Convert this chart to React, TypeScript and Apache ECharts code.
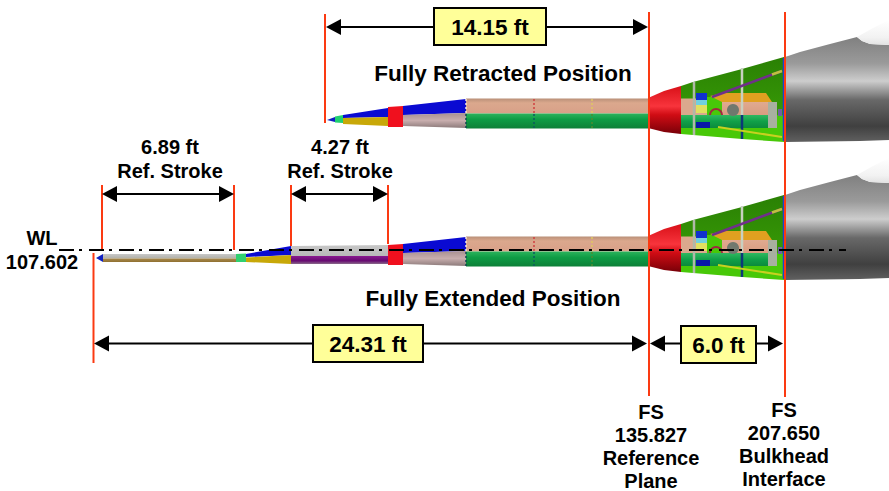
import React, { useEffect, useRef } from "react";
import * as echarts from "echarts";

const dimensionLabels = ["14.15 ft", "24.31 ft", "6.0 ft"];
const strokeLabels = ["6.89 ft", "4.27 ft"];
const strokeCaption = "Ref. Stroke";
const positionLabels = ["Fully Retracted Position", "Fully Extended Position"];
const waterLine = ["WL", "107.602"];
const referencePlane = ["FS", "135.827", "Reference", "Plane"];
const bulkhead = ["FS", "207.650", "Bulkhead", "Interface"];

const FONT = '"Liberation Sans", Arial, sans-serif';
const RED_LINE = "#fb3a12";
const lin = (stops: [number, string][]) =>
  new echarts.graphic.LinearGradient(0, 0, 0, 1, stops.map(([offset, color]) => ({ offset, color })));

const poly = (points: number[][], fill: any, z = 1) => ({ type: "polygon", z, silent: true, shape: { points }, style: { fill } });
const seg = (x1: number, y1: number, x2: number, y2: number, stroke: string, lineWidth = 2, z = 5, lineDash?: number[]) => ({
  type: "line", z, silent: true, shape: { x1, y1, x2, y2 }, style: { stroke, lineWidth, lineDash },
});
const txt = (x: number, y: number, text: string, fontSize = 20, z = 8) => ({
  type: "text", z, silent: true, x, y,
  style: { text, fontFamily: FONT, fontWeight: "bold", fontSize, fill: "#000", align: "center", verticalAlign: "middle" },
});

function arrow(x1: number, x2: number, y: number) {
  const L = 15, H = 8;
  return [
    seg(x1 + L - 1, y, x2 - L + 1, y, "#000", 2, 6),
    poly([[x1, y], [x1 + L, y - H], [x1 + L, y + H]], "#000", 6),
    poly([[x2, y], [x2 - L, y - H], [x2 - L, y + H]], "#000", 6),
  ];
}
function labelBox(x: number, y: number, w: number, h: number, text: string) {
  return [
    { type: "rect", z: 7, silent: true, shape: { x, y, width: w, height: h }, style: { fill: "#ffff99", stroke: "#000", lineWidth: 2 } },
    txt(x + w / 2, y + h / 2 + 1, text, 22.5),
  ];
}
const shift = (pts: number[][], d: number) => pts.map(([x, y]) => [x, y + d]);

function aftBody(d: number) {
  const out: any[] = [];
  const P = (pts: number[][], fill: any, z = 1) => out.push(poly(shift(pts, d), fill, z));
  const S = (a: number, b: number, c: number, e: number, stroke: string, w = 2, z = 3, dash?: number[]) =>
    out.push(seg(a, b + d, c, e + d, stroke, w, z, dash));

  // forward tapered section
  P([[403, 106], [466, 99], [466, 113], [403, 115]], "#0a0ad2");
  P([[403, 115], [466, 113], [466, 128], [403, 126]], lin([[0, "#a89090"], [0.5, "#c8aeae"], [1, "#8c7a7a"]]));
  // constant tube
  P([[466, 98.5], [650, 98.5], [650, 113.5], [466, 113.5]], lin([[0, "#b99078"], [0.3, "#dba88d"], [1, "#d8a088"]]));
  P([[466, 113.5], [650, 113.5], [650, 128.5], [466, 128.5]], lin([[0, "#2cb35c"], [0.4, "#0e9c45"], [1, "#0d8038"]]));
  const joints: [number, string, string][] = [[466, "#f4e8dc", "#0c4a50"], [534, "#d04040", "#0c5a60"], [592, "#e0c860", "#4f8a30"]];
  joints.forEach(([x, a, b]) => {
    S(x, 99, x, 113, a, 1.5, 2, [2, 2]);
    S(x, 114, x, 128, b, 1.5, 2, [2, 2]);
  });
  // red cone
  P([[648, 98], [664, 91], [681, 86], [681, 134], [664, 132], [648, 128]],
    lin([[0, "#d81018"], [0.42, "#f8343c"], [0.6, "#d00c14"], [1, "#780008"]]), 2);
  // equipment bay
  P([[681, 86], [693, 82], [742, 69], [784, 57], [784, 116], [681, 116]], lin([[0, "#2a8004"], [1, "#379a06"]]), 1);
  P([[681, 115], [784, 115], [784, 142], [742, 139], [693, 135], [681, 134]], "#48c808", 1);
  P([[681, 98.5], [707, 98.5], [707, 115], [681, 115]], "#dba88d", 2);
  P([[707, 97], [724, 97], [724, 115], [707, 115]], "#48c808", 2);
  P([[681, 115], [774, 115], [774, 128], [681, 128]], lin([[0, "#30b860"], [0.5, "#10a048"], [1, "#0c8a3c"]]), 2);
  P([[710, 96], [722, 93], [766, 93], [772, 102], [722, 102]], "#e0a020", 2);
  P([[722, 102], [772, 102], [772, 115], [722, 115]], lin([[0, "#e0aa90"], [1, "#d89c80"]]), 2);
  // colour-coded stack
  P([[696, 93], [707, 93], [707, 100], [696, 100]], "#1030d0", 3);
  P([[696, 100], [707, 100], [707, 105], [696, 105]], "#70d0e0", 3);
  P([[696, 105], [707, 105], [707, 113], [696, 113]], "#e0e060", 3);
  P([[696, 122], [710, 122], [710, 128], [696, 128]], "#0818a8", 3);
  // struts
  S(694, 82, 694, 135, "#b0b8a8", 2.5, 4);
  S(742, 68, 742, 115, "#c8d0c0", 2.5, 4);
  S(742, 115, 742, 139, "#0c3878", 2.5, 4);
  // actuator rods
  S(712, 97, 782, 71, "#70308a", 2.5, 4);
  S(772, 74.5, 782, 71, "#c0c040", 2.5, 4);
  S(718, 127, 782, 137, "#c8d020", 2, 4);
  // ball, ring, end box
  out.push({ type: "circle", z: 4, silent: true, shape: { cx: 733, cy: 110 + d, r: 6 }, style: { fill: "#70786e" } });
  out.push({ type: "arc", z: 4, silent: true, shape: { cx: 716, cy: 115 + d, r: 6, startAngle: Math.PI, endAngle: 0 }, style: { stroke: "#a02840", lineWidth: 2, fill: "none" } });
  P([[768, 102], [777, 102], [777, 128], [768, 128]], "#a8b0a0", 3);
  P([[778, 109], [782, 109], [782, 116], [778, 116]], "#7060a0", 3);
  S(783.5, 58, 783.5, 141, "#2040d0", 1.5, 4);
  // fuselage
  P([[785, 57], [800, 52], [830, 44], [857, 37], [862, 41], [870, 44], [889, 45], [889, 140], [860, 141], [785, 142]],
    lin([[0, "#808080"], [0.25, "#9a9a9a"], [0.42, "#cdcdcd"], [0.6, "#686868"], [0.85, "#404040"], [1, "#606060"]]), 1);
  // canopy highlight
  P([[857, 37], [873, 28], [889, 20], [889, 45], [870, 44], [862, 41]],
    new echarts.graphic.LinearGradient(0, 0, 0, 1, [{ offset: 0, color: "#ffffff" }, { offset: 0.7, color: "#f2f2f2" }, { offset: 1, color: "#e2e2e2" }]), 1);
  return out;
}

function retractedNose() {
  return [
    poly([[327, 120], [335, 117], [335, 122]], "#1020c0"),
    poly([[335, 116.5], [343, 115], [343, 123], [335, 122.5]], "#20d070"),
    poly([[343, 115], [388, 108], [388, 117], [343, 118]], "#0a0ad2"),
    poly([[343, 118], [388, 117], [388, 126], [343, 124]], "#c8a808"),
    poly([[388, 107], [403, 106], [403, 127], [388, 127]], "#f0101e", 2),
  ];
}
function extendedNose() {
  const d = 138;
  return [
    poly([[96, 258], [103, 254], [103, 262]], "#1020c0"),
    poly([[103, 254], [237, 254], [237, 258.5], [103, 258.5]], lin([[0, "#c8c8c8"], [1, "#b0b0a8"]])),
    poly([[103, 258.5], [237, 258.5], [237, 262], [103, 262]], lin([[0, "#a88a50"], [1, "#907030"]])),
    poly([[236, 254], [246, 253.5], [246, 262], [236, 262]], "#30d070"),
    poly([[246, 254], [291, 246], [291, 255], [246, 257]], "#0a0ad2"),
    poly([[246, 257.5], [291, 255], [291, 264], [246, 262]], "#c8a808"),
    poly([[291, 246], [388, 245], [388, 256], [291, 256]], lin([[0, "#c8c8c8"], [1, "#b8b8b8"]])),
    poly([[291, 256], [388, 256], [388, 264], [291, 264]], lin([[0, "#8a1a90"], [0.6, "#660a70"], [1, "#8a6a8a"]])),
    poly([[388, 107 + d], [403, 106 + d], [403, 127 + d], [388, 127 + d]], "#f0101e", 2),
  ];
}

export default function App() {
  const ref = useRef<HTMLDivElement>(null);
  useEffect(() => {
    document.body.style.margin = "0";
    const chart = echarts.init(ref.current!, undefined, { renderer: "svg" });
    const graphics: any[] = [
      ...retractedNose(),
      ...aftBody(0),
      ...extendedNose(),
      ...aftBody(138),
      // reference lines
      seg(325, 14, 325, 123, RED_LINE),
      seg(649, 12, 649, 396, RED_LINE),
      seg(785, 12, 785, 397, RED_LINE),
      seg(102, 185, 102, 250, RED_LINE),
      seg(234, 185, 234, 250, RED_LINE),
      seg(291, 185, 291, 246, RED_LINE),
      seg(388, 185, 388, 244, RED_LINE),
      seg(93.5, 253, 93.5, 363, RED_LINE),
      // water line
      seg(59, 250, 846, 250, "#000", 2, 6, [15, 5, 3, 7]),
      // dimension arrows
      ...arrow(326, 648, 27),
      ...arrow(102, 234, 194),
      ...arrow(291, 388, 194),
      ...arrow(94, 647, 343.5),
      ...arrow(650, 783, 343.5),
      ...labelBox(434, 8, 112, 37, dimensionLabels[0]),
      ...labelBox(313, 325, 110, 37, dimensionLabels[1]),
      ...labelBox(681, 326, 75, 37, dimensionLabels[2]),
      // captions
      txt(503, 73, positionLabels[0], 22.5),
      txt(493, 298, positionLabels[1], 22.5),
      txt(170, 147, strokeLabels[0]),
      txt(170, 171, strokeCaption),
      txt(340, 147, strokeLabels[1]),
      txt(340, 171, strokeCaption),
      txt(42, 238, waterLine[0]),
      txt(42, 262, waterLine[1]),
      ...referencePlane.map((t, i) => txt(651, 412 + i * 23, t)),
      ...bulkhead.map((t, i) => txt(784, 410 + i * 23, t)),
    ];
    chart.setOption({
      animation: false,
      backgroundColor: "#fff",
      graphic: { elements: graphics },
    });
    return () => chart.dispose();
  }, []);
  return <div ref={ref} style={{ width: 889, height: 491 }} />;
}
